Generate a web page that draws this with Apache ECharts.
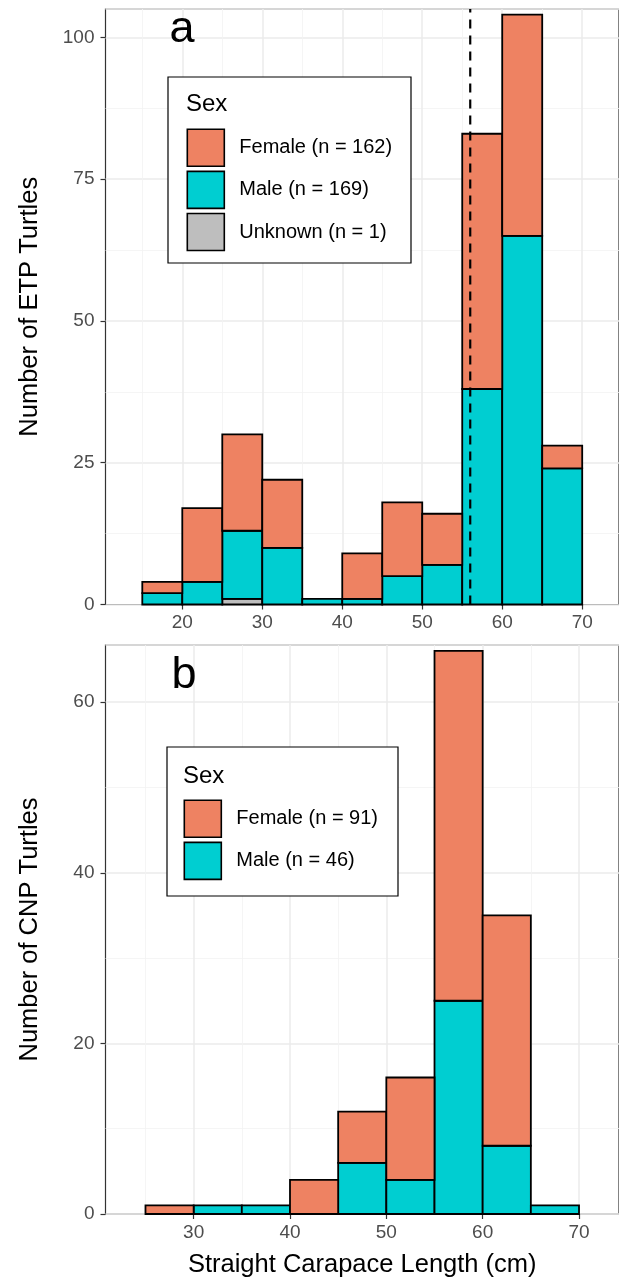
<!DOCTYPE html>
<html>
<head>
<meta charset="utf-8">
<script src="https://cdn.jsdelivr.net/npm/echarts@6/dist/echarts.min.js"></script>
<style>
  html, body { margin: 0; padding: 0; background: #fff; }
  #chart { width: 619px; height: 1280px; }
</style>
</head>
<body>
<div id="chart"></div>
<script>
// panel a: ETP turtles, bins of 5 cm (left edges)
const etpBins = [15, 20, 25, 30, 35, 40, 45, 50, 55, 60, 65];
const etpUnknown = [0, 0, 1, 0, 0, 0, 0, 0, 0, 0, 0];
const etpMale = [2, 4, 12, 10, 1, 1, 5, 7, 38, 65, 24];
const etpFemale = [2, 13, 17, 12, 0, 8, 13, 9, 45, 39, 4];
const etpCutoff = 56;

// panel b: CNP turtles
const cnpBins = [25, 30, 35, 40, 45, 50, 55, 60, 65];
const cnpMale = [0, 1, 1, 0, 6, 4, 25, 8, 1];
const cnpFemale = [1, 0, 0, 4, 6, 12, 41, 27, 0];

const binWidth = 5;
const xTicks = [20, 30, 40, 50, 60, 70];
const xMinorTop = [15, 25, 35, 45, 55, 65];
const xTicksBottom = [30, 40, 50, 60, 70];
const xMinorBottom = [25, 35, 45, 55, 65];
const yMinorTop = [12.5, 37.5, 62.5, 87.5];
const yMinorBottom = [10, 30, 50];

const FEMALE = '#EE8262', MALE = '#00CED1', UNKNOWN = '#BEBEBE';
const FONT = "'Liberation Sans', Arial, sans-serif";

// stack layers bottom -> top, return rect rows [x0, x1, y0, y1]
function stackLayers(bins, layers) {
  const base = bins.map(() => 0);
  return layers.map(vals => {
    const rows = [];
    vals.forEach((v, i) => {
      if (v > 0) rows.push([bins[i], bins[i] + binWidth, base[i], base[i] + v]);
      base[i] += v;
    });
    return rows;
  });
}

const [aUnk, aMale, aFem] = stackLayers(etpBins, [etpUnknown, etpMale, etpFemale]);
const [bMale, bFem] = stackLayers(cnpBins, [cnpMale, cnpFemale]);

function renderRect(params, api) {
  const p0 = api.coord([api.value(0), api.value(3)]);
  const p1 = api.coord([api.value(1), api.value(2)]);
  return {
    type: 'rect',
    shape: { x: p0[0], y: p0[1], width: p1[0] - p0[0], height: p1[1] - p0[1] },
    style: { fill: api.visual('color'), stroke: '#000', lineWidth: 1.8 }
  };
}

function histSeries(name, data, color, idx) {
  return {
    name: name, type: 'custom', data: data,
    xAxisIndex: idx, yAxisIndex: idx,
    itemStyle: { color: color },
    encode: { x: [0, 1], y: [2, 3] },
    renderItem: renderRect
  };
}

const majorLine = { show: true, lineStyle: { color: '#EBEBEB', width: 1.5 } };
const minorLine = { show: true, lineStyle: { color: '#F2F2F2', width: 0.8 } };
const labelStyle = { color: '#4D4D4D', fontSize: 19, fontFamily: FONT };
const titleStyle = { color: '#000', fontSize: 25.5, fontFamily: FONT };

function mainX(idx, min, max, ticks, showName) {
  return {
    type: 'value', gridIndex: idx, min: min, max: max,
    axisLine: { show: false },
    axisTick: { show: true, length: 5, customValues: ticks, lineStyle: { color: '#333', width: 1.2 } },
    axisLabel: Object.assign({ customValues: ticks, margin: 9 }, labelStyle),
    splitLine: majorLine,
    name: showName ? 'Straight Carapace Length (cm)' : '',
    nameLocation: 'middle', nameGap: 38,
    nameTextStyle: titleStyle
  };
}
function minorX(idx, min, max, ticks) {
  return {
    type: 'value', gridIndex: idx, min: min, max: max,
    axisLine: { show: false }, axisLabel: { show: false },
    axisTick: { show: false, customValues: ticks },
    splitLine: minorLine
  };
}
function mainY(idx, max, interval, name) {
  return {
    type: 'value', gridIndex: idx, min: 0, max: max, interval: interval,
    axisLine: { show: false },
    axisTick: { show: true, length: 5, lineStyle: { color: '#333', width: 1.2 } },
    axisLabel: Object.assign({ margin: 11, showMaxLabel: false }, labelStyle),
    splitLine: majorLine,
    name: name, nameLocation: 'middle', nameGap: 63, nameRotate: 90,
    nameTextStyle: titleStyle
  };
}
function minorY(idx, max, ticks) {
  return {
    type: 'value', gridIndex: idx, min: 0, max: max,
    axisLine: { show: false }, axisLabel: { show: false },
    axisTick: { show: false, customValues: ticks },
    splitLine: minorLine
  };
}

const legendText = { fontSize: 20, fontFamily: FONT, color: '#000', padding: [0, 0, 0, 10] };
function legendBox(names, left, top) {
  return {
    data: names, z: 10, padding: 0,
    orient: 'vertical', left: left, top: top,
    itemWidth: 37, itemHeight: 37, itemGap: 3.5, icon: 'rect',
    itemStyle: { borderColor: '#000', borderWidth: 1.6 },
    textStyle: legendText, selectedMode: false
  };
}

const option = {
  animation: false,
  backgroundColor: '#fff',
  grid: [
    { left: 105.5, top: 9, width: 514, height: 595.5, show: true, borderColor: '#333', borderWidth: 1.2, backgroundColor: 'transparent' },
    { left: 105.5, top: 645, width: 514, height: 569, show: true, borderColor: '#333', borderWidth: 1.2, backgroundColor: 'transparent' }
  ],
  xAxis: [
    mainX(0, 10.4, 74.6, xTicks, false),
    mainX(1, 20.85, 74.15, xTicksBottom, true),
    minorX(0, 10.4, 74.6, xMinorTop),
    minorX(1, 20.85, 74.15, xMinorBottom)
  ],
  yAxis: [
    mainY(0, 105, 25, 'Number of ETP Turtles'),
    mainY(1, 66.7, 20, 'Number of CNP Turtles'),
    minorY(0, 105, yMinorTop),
    minorY(1, 66.7, yMinorBottom)
  ],
  legend: [
    legendBox(['Female (n = 162)', 'Male (n = 169)', 'Unknown (n = 1)'], 186.5, 128.5),
    legendBox(['Female (n = 91)', 'Male (n = 46)'], 183.5, 799.5)
  ],
  graphic: [
    { type: 'rect', z: 5, shape: { x: 168, y: 77, width: 243, height: 186 },
      style: { fill: '#fff', stroke: '#000', lineWidth: 1.2 } },
    { type: 'text', z: 6, x: 186, y: 104,
      style: { text: 'Sex', font: '24px ' + FONT, fill: '#000', verticalAlign: 'middle' } },
    { type: 'rect', z: 5, shape: { x: 167, y: 747, width: 231, height: 149 },
      style: { fill: '#fff', stroke: '#000', lineWidth: 1.2 } },
    { type: 'text', z: 6, x: 183, y: 776,
      style: { text: 'Sex', font: '24px ' + FONT, fill: '#000', verticalAlign: 'middle' } },
    { type: 'text', z: 6, x: 182, y: 30,
      style: { text: 'a', font: '45px ' + FONT, fill: '#000', align: 'center', verticalAlign: 'middle' } },
    { type: 'text', z: 6, x: 184, y: 676,
      style: { text: 'b', font: '45px ' + FONT, fill: '#000', align: 'center', verticalAlign: 'middle' } }
  ],
  series: [
    histSeries('Unknown (n = 1)', aUnk, UNKNOWN, 0),
    histSeries('Male (n = 169)', aMale, MALE, 0),
    histSeries('Female (n = 162)', aFem, FEMALE, 0),
    {
      type: 'line', xAxisIndex: 0, yAxisIndex: 0, symbol: 'none', silent: true, z: 3,
      data: [[etpCutoff, 0], [etpCutoff, 105]],
      lineStyle: { color: '#000', width: 2.2, type: [9, 7] }
    },
    histSeries('Male (n = 46)', bMale, MALE, 1),
    histSeries('Female (n = 91)', bFem, FEMALE, 1)
  ]
};

const chart = echarts.init(document.getElementById('chart'), null, { renderer: 'canvas' });
chart.setOption(option);
</script>
</body>
</html>
